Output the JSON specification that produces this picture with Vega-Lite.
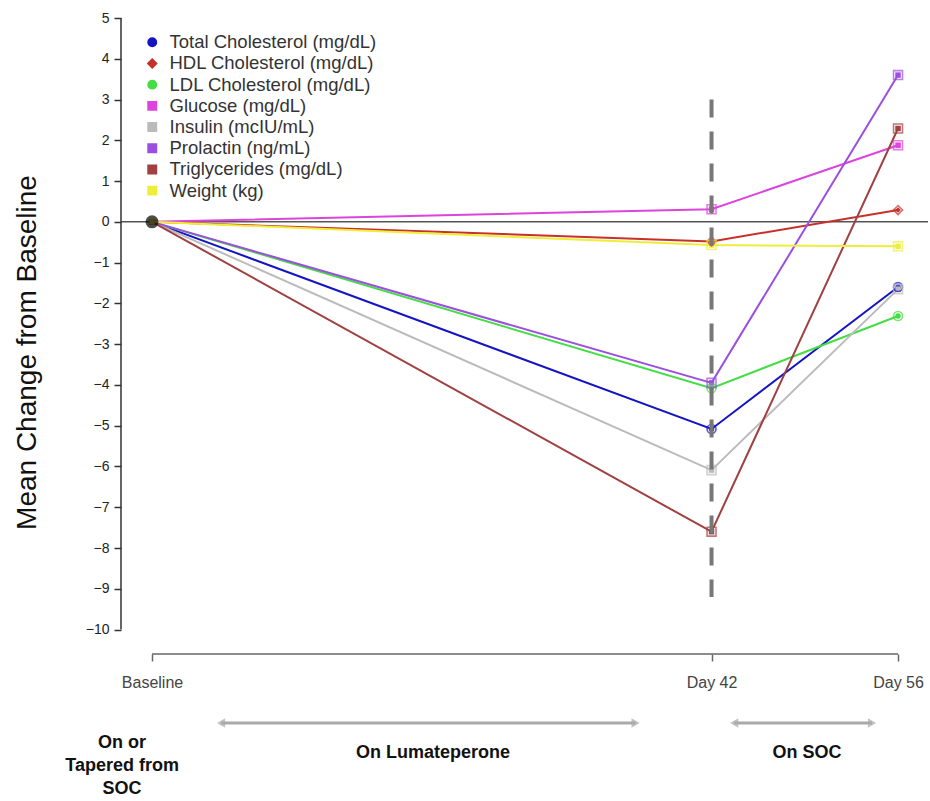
{
  "$schema": "https://vega.github.io/schema/vega-lite/v6.json",
  "width": 807,
  "height": 636,
  "autosize": {"type": "none"},
  "padding": {"left": 121, "top": 18, "right": 2, "bottom": 147},
  "background": "white",
  "config": {"view": {"stroke": null}, "font": "Liberation Sans"},
  "datasets": {
    "series": [
      {"series": "Total Cholesterol (mg/dL)", "day": 0, "value": 0},
      {"series": "Total Cholesterol (mg/dL)", "day": 42, "value": -5.08},
      {"series": "Total Cholesterol (mg/dL)", "day": 56, "value": -1.6},
      {"series": "HDL Cholesterol (mg/dL)", "day": 0, "value": 0},
      {"series": "HDL Cholesterol (mg/dL)", "day": 42, "value": -0.48},
      {"series": "HDL Cholesterol (mg/dL)", "day": 56, "value": 0.29},
      {"series": "LDL Cholesterol (mg/dL)", "day": 0, "value": 0},
      {"series": "LDL Cholesterol (mg/dL)", "day": 42, "value": -4.08},
      {"series": "LDL Cholesterol (mg/dL)", "day": 56, "value": -2.31},
      {"series": "Glucose (mg/dL)", "day": 0, "value": 0},
      {"series": "Glucose (mg/dL)", "day": 42, "value": 0.31},
      {"series": "Glucose (mg/dL)", "day": 56, "value": 1.88},
      {"series": "Insulin (mcIU/mL)", "day": 0, "value": 0},
      {"series": "Insulin (mcIU/mL)", "day": 42, "value": -6.09},
      {"series": "Insulin (mcIU/mL)", "day": 56, "value": -1.65},
      {"series": "Prolactin (ng/mL)", "day": 0, "value": 0},
      {"series": "Prolactin (ng/mL)", "day": 42, "value": -3.95},
      {"series": "Prolactin (ng/mL)", "day": 56, "value": 3.6},
      {"series": "Triglycerides (mg/dL)", "day": 0, "value": 0},
      {"series": "Triglycerides (mg/dL)", "day": 42, "value": -7.6},
      {"series": "Triglycerides (mg/dL)", "day": 56, "value": 2.29},
      {"series": "Weight (kg)", "day": 0, "value": 0},
      {"series": "Weight (kg)", "day": 42, "value": -0.57},
      {"series": "Weight (kg)", "day": 56, "value": -0.6}
    ],
    "baseline": [{"day": 0, "value": 0}],
    "period": [
      {"label": "On Lumateperone", "start": 5.18, "end": 36.3, "labelX": 21.1},
      {"label": "On SOC", "start": 43.7, "end": 54.05, "labelX": 49.17}
    ]
  },
  "layer": [
    {
      "data": {"name": "baseline"},
      "mark": {"type": "rule", "color": "#555555", "strokeWidth": 1.5},
      "encoding": {"y": {"datum": 0}}
    },
    {
      "data": {"name": "baseline"},
      "mark": {"type": "rule", "color": "#333333", "strokeWidth": 1.5},
      "encoding": {"x": {"datum": -2.33}, "y": {"datum": -10}, "y2": {"datum": 5}}
    },
    {
      "data": {"name": "baseline"},
      "mark": {"type": "rule", "color": "#666666", "strokeWidth": 1.5},
      "encoding": {"x": {"datum": 0}, "x2": {"datum": 56}, "y": {"datum": -10.6}}
    },
    {
      "data": {"name": "series"},
      "mark": {"type": "line", "strokeWidth": 2},
      "encoding": {
        "x": {
          "field": "day", "type": "quantitative",
          "scale": {"domain": [-2.33, 58.25], "nice": false, "zero": false},
          "axis": {
            "title": null, "domain": false, "grid": false,
            "values": [0, 42, 56],
            "labelExpr": "datum.value == 0 ? 'Baseline' : 'Day ' + datum.value",
            "tickSize": 7, "tickColor": "#666666", "tickWidth": 1.5,
            "labelFontSize": 16, "labelColor": "#444444", "labelPadding": 13
          }
        },
        "y": {
          "field": "value", "type": "quantitative",
          "scale": {"domain": [-10.6, 5], "nice": false, "zero": false},
          "axis": {
            "title": "Mean Change from Baseline", "domain": false, "grid": false,
            "values": [-10, -9, -8, -7, -6, -5, -4, -3, -2, -1, 0, 1, 2, 3, 4, 5],
            "tickSize": 7, "tickColor": "#333333", "tickWidth": 1.5,
            "labelFontSize": 14, "labelColor": "#222222", "labelPadding": 5,
            "titleFontSize": 28, "titleFontWeight": "normal", "titleColor": "#111111",
            "titleX": -86, "titleY": 334, "titleBaseline": "alphabetic", "titleAlign": "center", "titleAngle": -90
          }
        },
        "color": {
          "field": "series", "type": "nominal",
          "scale": {
            "domain": ["Total Cholesterol (mg/dL)", "HDL Cholesterol (mg/dL)", "LDL Cholesterol (mg/dL)", "Glucose (mg/dL)", "Insulin (mcIU/mL)", "Prolactin (ng/mL)", "Triglycerides (mg/dL)", "Weight (kg)"],
            "range": ["#1414C4", "#C8302A", "#44DD44", "#DD44DD", "#BBBBBB", "#9B4FE0", "#A04040", "#EEEE3A"]
          },
          "legend": {
            "title": null, "orient": "none", "legendX": 22, "legendY": 15,
            "labelFontSize": 18.5, "labelColor": "#333333", "labelLimit": 0, "symbolSize": 55,
            "symbolStrokeWidth": 2.5, "rowPadding": 2.2, "labelOffset": 8
          }
        },
        "shape": {
          "field": "series", "type": "nominal",
          "scale": {
            "domain": ["Total Cholesterol (mg/dL)", "HDL Cholesterol (mg/dL)", "LDL Cholesterol (mg/dL)", "Glucose (mg/dL)", "Insulin (mcIU/mL)", "Prolactin (ng/mL)", "Triglycerides (mg/dL)", "Weight (kg)"],
            "range": ["circle", "diamond", "circle", "square", "square", "square", "square", "square"]
          },
          "legend": {
            "title": null, "orient": "none", "legendX": 22, "legendY": 15,
            "labelFontSize": 18.5, "labelColor": "#333333", "labelLimit": 0, "symbolSize": 55,
            "symbolStrokeWidth": 2.5, "rowPadding": 2.2, "labelOffset": 8
          }
        },
        "detail": {"field": "series"}
      }
    },
    {
      "data": {"name": "series"},
      "transform": [{"filter": "datum.day > 0"}],
      "mark": {"type": "point", "filled": false, "size": 80, "strokeWidth": 1.6},
      "encoding": {
        "x": {"field": "day", "type": "quantitative"},
        "y": {"field": "value", "type": "quantitative"},
        "color": {"field": "series", "type": "nominal"},
        "shape": {"field": "series", "type": "nominal"}
      }
    },
    {
      "data": {"name": "baseline"},
      "mark": {"type": "rule", "color": "#777777", "strokeWidth": 4, "strokeDash": [18, 14]},
      "encoding": {"x": {"datum": 42}, "y": {"datum": 3}, "y2": {"datum": -9.2}}
    },
    {
      "data": {"name": "baseline"},
      "mark": {"type": "point", "filled": true, "color": "black", "size": 170, "shape": "circle"},
      "encoding": {"x": {"field": "day", "type": "quantitative"}, "y": {"field": "value", "type": "quantitative"}}
    },
    {
      "data": {"name": "period"},
      "mark": {"type": "rule", "color": "#AAAAAA", "strokeWidth": 3},
      "encoding": {"x": {"field": "start", "type": "quantitative"}, "x2": {"field": "end"}, "y": {"datum": -12.29}}
    },
    {
      "data": {"name": "period"},
      "mark": {"type": "point", "filled": true, "color": "#AAAAAA", "size": 90, "shape": "triangle-left"},
      "encoding": {"x": {"field": "start", "type": "quantitative"}, "y": {"datum": -12.29}}
    },
    {
      "data": {"name": "period"},
      "mark": {"type": "point", "filled": true, "color": "#AAAAAA", "size": 90, "shape": "triangle-right"},
      "encoding": {"x": {"field": "end", "type": "quantitative"}, "y": {"datum": -12.29}}
    },
    {
      "data": {"name": "period"},
      "mark": {"type": "text", "fontWeight": "bold", "fontSize": 18, "color": "#111111", "baseline": "middle"},
      "encoding": {"x": {"field": "labelX", "type": "quantitative"}, "y": {"datum": -13.04}, "text": {"field": "label"}}
    },
    {
      "data": {"values": [{"label": "On or\nTapered from\nSOC"}]},
      "mark": {"type": "text", "fontWeight": "bold", "fontSize": 18, "color": "#111111", "baseline": "middle", "lineBreak": "\n", "lineHeight": 23},
      "encoding": {"x": {"datum": -2.25}, "y": {"datum": -12.78}, "text": {"field": "label"}}
    }
  ]
}
